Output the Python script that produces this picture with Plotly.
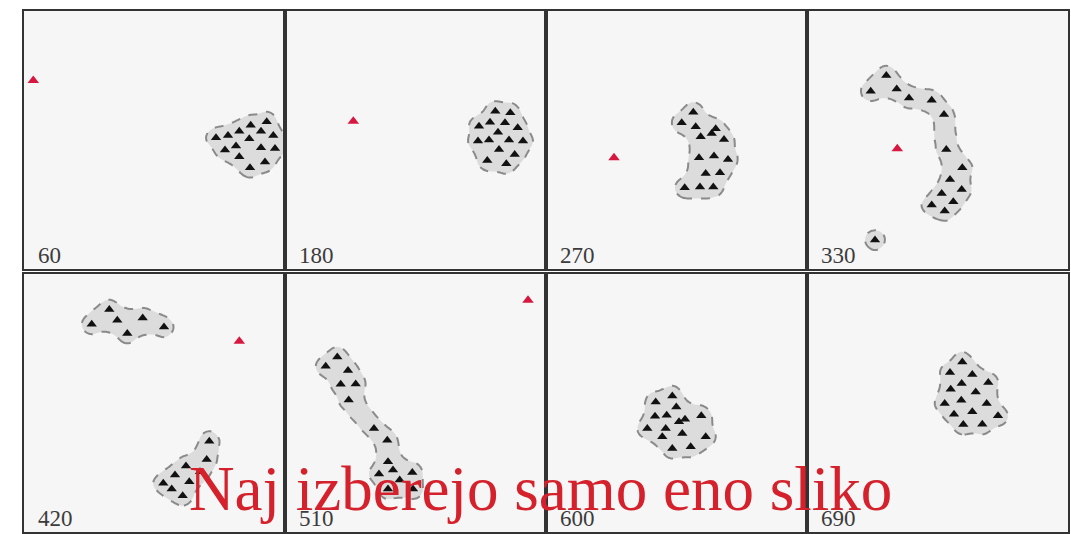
import numpy as np
import plotly.graph_objects as go
from plotly.subplots import make_subplots

# Time step shown in each panel
step_labels = ["60", "180", "270", "330", "420", "510", "600", "690"]

# Sheep positions per panel (arena units, origin bottom-left)
x60 = [242.7, 226.7, 215.3, 237.0, 204.0, 249.3, 192.0, 225.3, 212.0, 237.0, 251.0, 201.0, 215.3, 241.0, 226.0]
y60 = [147.0, 143.7, 137.7, 137.7, 133.3, 133.3, 131.0, 130.0, 122.7, 121.0, 120.3, 118.7, 112.0, 106.7, 101.0]

x180 = [210.3, 225.3, 194.0, 205.0, 220.0, 232.7, 213.0, 193.0, 204.0, 224.0, 238.0, 214.0, 229.7, 202.3, 221.3]
y180 = [157.7, 156.0, 142.7, 146.7, 146.0, 141.0, 136.7, 127.7, 128.7, 128.7, 127.7, 119.3, 114.3, 108.3, 105.0]

x270 = [147.3, 135.7, 149.7, 154.7, 165.7, 169.7, 178.0, 153.0, 168.0, 182.0, 159.7, 174.0, 138.7, 154.0, 167.3]
y270 = [156.7, 146.0, 142.0, 132.0, 135.3, 140.0, 129.3, 111.0, 112.7, 109.3, 95.3, 96.0, 81.0, 81.7, 81.7]

x330 = [79.3, 63.7, 89.7, 102.0, 124.7, 137.0, 139.3, 155.3, 143.0, 154.7, 134.7, 146.3, 124.7, 137.7, 68.0]
y330 = [193.3, 177.7, 180.0, 171.0, 168.7, 154.3, 119.3, 101.0, 89.3, 79.3, 75.3, 67.0, 63.7, 57.7, 28.7]

x420 = [85.3, 93.3, 118.7, 67.7, 140.0, 103.3, 185.3, 182.7, 162.0, 151.0, 165.3, 139.3, 147.7, 158.7, 176.0]
y420 = [222.7, 212.0, 214.3, 208.0, 205.3, 198.7, 91.0, 72.7, 66.0, 57.0, 50.3, 48.7, 43.0, 36.3, 60.3]

x510 = [52.3, 40.7, 63.0, 55.7, 70.7, 63.7, 89.0, 102.3, 103.0, 108.0, 94.0, 127.3, 114.7, 103.0, 128.0]
y510 = [175.3, 166.0, 161.7, 148.0, 148.3, 132.3, 103.7, 92.0, 70.3, 62.0, 58.0, 59.7, 52.0, 43.0, 43.0]

x600 = [126.3, 109.7, 130.3, 109.0, 120.7, 155.3, 139.0, 133.0, 101.3, 119.7, 136.3, 116.3, 159.7, 126.3, 144.7]
y600 = [136.3, 130.3, 125.3, 116.0, 117.0, 116.3, 113.0, 110.3, 103.7, 103.7, 98.7, 95.3, 95.3, 83.7, 85.3]

x690 = [155.3, 143.0, 165.3, 181.3, 154.7, 143.7, 168.7, 137.7, 154.3, 179.7, 147.0, 165.3, 191.0, 156.3, 175.3]
y690 = [170.3, 159.7, 157.7, 149.7, 148.7, 143.0, 140.3, 128.7, 132.0, 128.7, 118.0, 120.3, 116.3, 107.7, 108.0]

sheep_x = [x60, x180, x270, x330, x420, x510, x600, x690]
sheep_y = [y60, y180, y270, y330, y420, y510, y600, y690]

# Shepherd (dog) position per panel; None where it is off the arena
dog_x = [9.3, 68.3, 68.0, 90.3, 215.3, 243.0, None, None]
dog_y = [188.3, 147.7, 111.0, 120.0, 191.0, 232.0, None, None]

ARENA_W, ARENA_H = 261.0, 258.0
STEP = 1.5         # grid spacing of the outline field
PAD = 40.0         # field extends past the arena so outlines clip cleanly
RADIUS = 10.0      # buffer around the flock skeleton
CLOSE = 16.0       # morphological closing radius (fills concave notches)
SMOOTH = 3.0       # final smoothing of the region
LINK_MAX = 45.0    # neighbours farther apart than this are not bridged

gx = np.arange(-PAD, ARENA_W + PAD + STEP, STEP)
gy = np.arange(-PAD, ARENA_H + PAD + STEP, STEP)
GX, GY = np.meshgrid(gx, gy)

_s = SMOOTH / STEP
_k = np.arange(-int(3 * _s) - 1, int(3 * _s) + 2)
KERNEL = np.exp(-_k ** 2 / (2 * _s ** 2))
KERNEL /= KERNEL.sum()


def blur(a):
    a = np.apply_along_axis(lambda v: np.convolve(v, KERNEL, mode="same"), 0, a)
    return np.apply_along_axis(lambda v: np.convolve(v, KERNEL, mode="same"), 1, a)


def skeleton_distance(pts):
    n = len(pts)
    dmat = np.sqrt(((pts[:, None, :] - pts[None, :, :]) ** 2).sum(-1))
    # minimum spanning tree (Prim) as the flock skeleton
    edges = []
    best = dmat[0].copy()
    parent = np.zeros(n, dtype=int)
    used = np.zeros(n, dtype=bool)
    used[0] = True
    for _ in range(n - 1):
        cand = np.where(used, np.inf, best)
        j = int(np.argmin(cand))
        edges.append((parent[j], j))
        used[j] = True
        upd = dmat[j] < best
        best = np.where(upd, dmat[j], best)
        parent = np.where(upd, j, parent)
    dist = np.full(GX.shape, np.inf)
    for px, py in pts:
        dist = np.minimum(dist, np.hypot(GX - px, GY - py))
    for a, b in edges:
        if dmat[a, b] > LINK_MAX:
            continue
        p, q = pts[a], pts[b]
        v = q - p
        t = np.clip(((GX - p[0]) * v[0] + (GY - p[1]) * v[1]) / (v @ v), 0, 1)
        dist = np.minimum(dist, np.hypot(GX - (p[0] + t * v[0]), GY - (p[1] + t * v[1])))
    return dist


def flock_field(ax, ay):
    pts = np.column_stack([ax, ay])
    dist = skeleton_distance(pts)
    grown = dist < RADIUS + CLOSE
    ring = (dist >= RADIUS + CLOSE) & (dist < RADIUS + CLOSE + 2 * STEP)
    qx, qy = GX[ring], GY[ring]
    idx = np.flatnonzero(grown)
    px, py = GX.ravel()[idx], GY.ravel()[idx]
    md = np.empty(len(idx))
    for s in range(0, len(idx), 400):
        dx = px[s:s + 400, None] - qx[None, :]
        dy = py[s:s + 400, None] - qy[None, :]
        md[s:s + 400] = np.sqrt(dx * dx + dy * dy).min(axis=1)
    closed = np.zeros(GX.size)
    closed[idx[md > CLOSE]] = 1.0
    return np.round(blur(closed.reshape(GX.shape)), 3)


fig = make_subplots(rows=2, cols=4, horizontal_spacing=0.0, vertical_spacing=0.011)

for k in range(8):
    r, c = k // 4 + 1, k % 4 + 1
    z = flock_field(sheep_x[k], sheep_y[k])
    fig.add_trace(go.Contour(
        x=gx, y=gy, z=z,
        contours=dict(start=0.5, end=0.5, size=1, coloring="fill"),
        colorscale=[[0, "rgba(255,255,255,0)"], [1, "#dcdcdc"]],
        line=dict(color="#8a8a8a", width=2, dash="dash"),
        line_smoothing=1.0,
        showscale=False, hoverinfo="skip",
    ), row=r, col=c)
    fig.add_trace(go.Scatter(
        x=sheep_x[k], y=sheep_y[k], mode="markers",
        marker=dict(symbol="triangle-up", size=9, color="#111111"),
        hoverinfo="skip", showlegend=False,
    ), row=r, col=c)
    if dog_x[k] is not None:
        fig.add_trace(go.Scatter(
            x=[dog_x[k]], y=[dog_y[k]], mode="markers",
            marker=dict(symbol="triangle-up", size=10, color="#d8173f"),
            hoverinfo="skip", showlegend=False,
        ), row=r, col=c)
    fig.update_xaxes(range=[0, ARENA_W], row=r, col=c)
    fig.update_yaxes(range=[0, ARENA_H], row=r, col=c)
    axn = "" if k == 0 else str(k + 1)
    fig.add_annotation(
        text=step_labels[k], xref=f"x{axn} domain", yref=f"y{axn} domain",
        x=0.045, y=0.0, yshift=-1, xanchor="left", yanchor="bottom", showarrow=False,
        font=dict(family="Liberation Serif", size=23, color="#3c3c3c"),
    )

fig.update_xaxes(showgrid=False, zeroline=False, showticklabels=False, ticks="",
                 showline=True, mirror=True, linecolor="#333333", linewidth=2)
fig.update_yaxes(showgrid=False, zeroline=False, showticklabels=False, ticks="",
                 showline=True, mirror=True, linecolor="#333333", linewidth=2)

fig.add_annotation(
    text="Naj izberejo samo eno sliko", xref="paper", yref="paper",
    x=0.495, y=0.082, xanchor="center", yanchor="middle", showarrow=False,
    font=dict(family="Liberation Serif", size=63, color="#d4212b"),
)

fig.update_layout(
    width=1071, height=534,
    margin=dict(l=24, r=3, t=11, b=2),
    paper_bgcolor="white", plot_bgcolor="#f6f6f6",
    showlegend=False,
)

fig.write_html("out.html")
